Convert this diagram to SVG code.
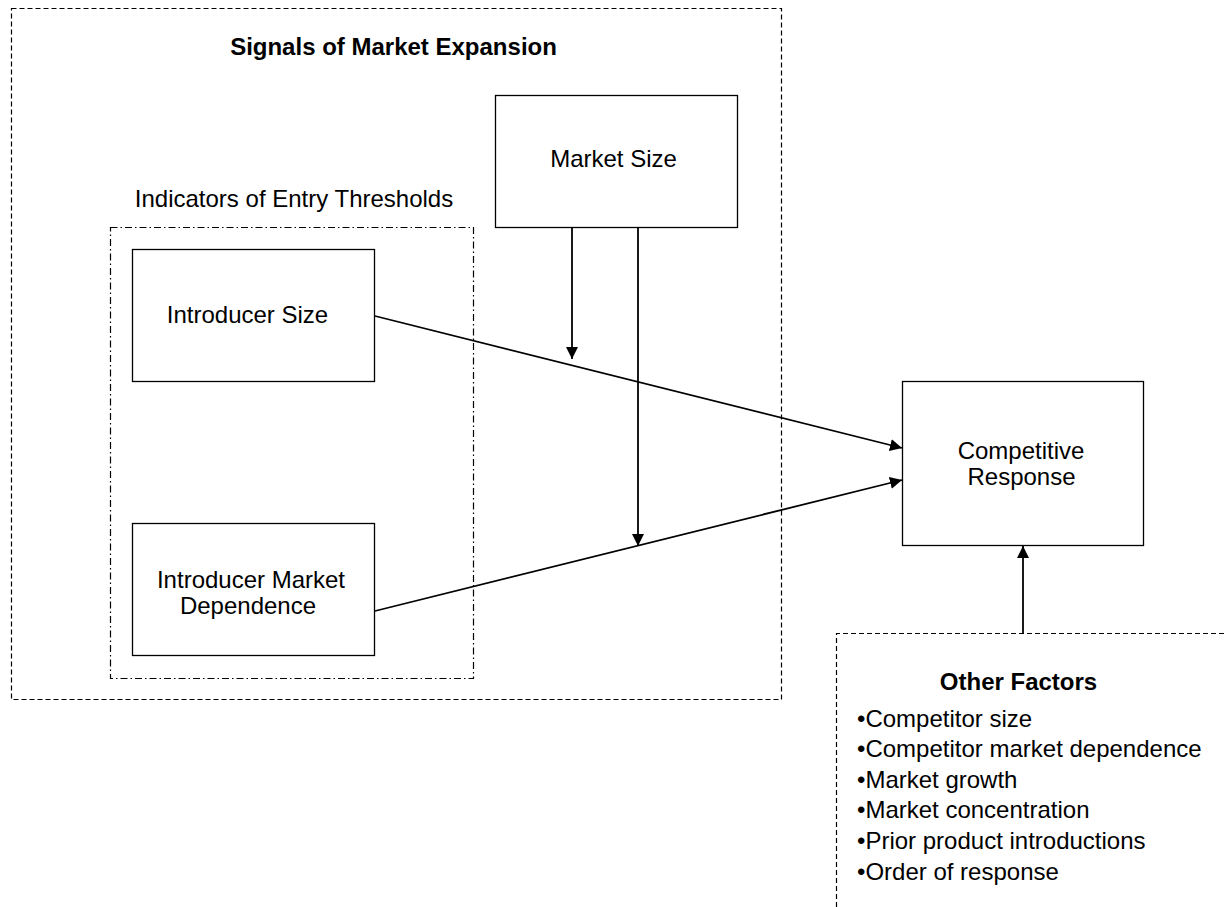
<svg xmlns="http://www.w3.org/2000/svg" width="1225" height="907" viewBox="0 0 1225 907">
<style>
text{font-family:"Liberation Sans",Arial,sans-serif;font-size:24px;fill:#000}
.b{font-weight:bold}
.box{fill:#fff;stroke:#000;stroke-width:1.3}
.dash{fill:none;stroke:#000;stroke-width:1.2;stroke-dasharray:5,3}
.dd{fill:none;stroke:#000;stroke-width:1.2;stroke-dasharray:7,3,1.5,3}
.ln{stroke:#000;stroke-width:1.8;fill:none}
</style>
<defs>
<marker id="ah2" viewBox="0 0 10 10" refX="10" refY="5" markerWidth="12" markerHeight="12" orient="auto" markerUnits="userSpaceOnUse">
<path d="M0,0 L10,5 L0,10 z" fill="#000"/>
</marker>
</defs>
<rect width="1225" height="907" fill="#fff"/>
<g id="signals">
<rect class="dash" x="11.5" y="8.5" width="770" height="691"/>
<text class="b" x="393.5" y="55" text-anchor="middle">Signals of Market Expansion</text>
</g>
<g id="indicators">
<rect class="dd" x="110.5" y="227.5" width="363" height="451"/>
<text x="294" y="207" text-anchor="middle">Indicators of Entry Thresholds</text>
</g>
<g id="introducer-size">
<rect class="box" x="132.5" y="249.5" width="242" height="132"/>
<text x="247.5" y="323" text-anchor="middle">Introducer Size</text>
</g>
<g id="introducer-dependence">
<rect class="box" x="132.5" y="523.5" width="242" height="132"/>
<text x="251" y="588" text-anchor="middle">Introducer Market</text>
<text x="248" y="614" text-anchor="middle">Dependence</text>
</g>
<g id="market-size">
<rect class="box" x="495.5" y="95.5" width="242" height="132"/>
<text x="613.5" y="167" text-anchor="middle">Market Size</text>
</g>
<g id="competitive-response">
<rect class="box" x="902.5" y="381.5" width="241" height="164"/>
<text x="1021" y="459" text-anchor="middle">Competitive</text>
<text x="1021.5" y="485" text-anchor="middle">Response</text>
</g>
<g id="other-factors">
<path class="dash" d="M836.5,907 V633.5 H1225"/>
<text class="b" x="1018.5" y="690" text-anchor="middle">Other Factors</text>
<text x="857" y="727">•Competitor size</text>
<text x="857" y="757">•Competitor market dependence</text>
<text x="857" y="788">•Market growth</text>
<text x="857" y="818">•Market concentration</text>
<text x="857" y="849">•Prior product introductions</text>
<text x="857" y="880">•Order of response</text>
</g>
<g id="connectors">
<line class="ln" x1="375" y1="316" x2="902" y2="448" marker-end="url(#ah2)"/>
<line class="ln" x1="375" y1="611" x2="902" y2="480" marker-end="url(#ah2)"/>
<line class="ln" x1="572" y1="228" x2="572" y2="359" marker-end="url(#ah2)"/>
<line class="ln" x1="638" y1="228" x2="638" y2="546" marker-end="url(#ah2)"/>
<line class="ln" x1="1023" y1="633" x2="1023" y2="546" marker-end="url(#ah2)"/>
</g>
</svg>
